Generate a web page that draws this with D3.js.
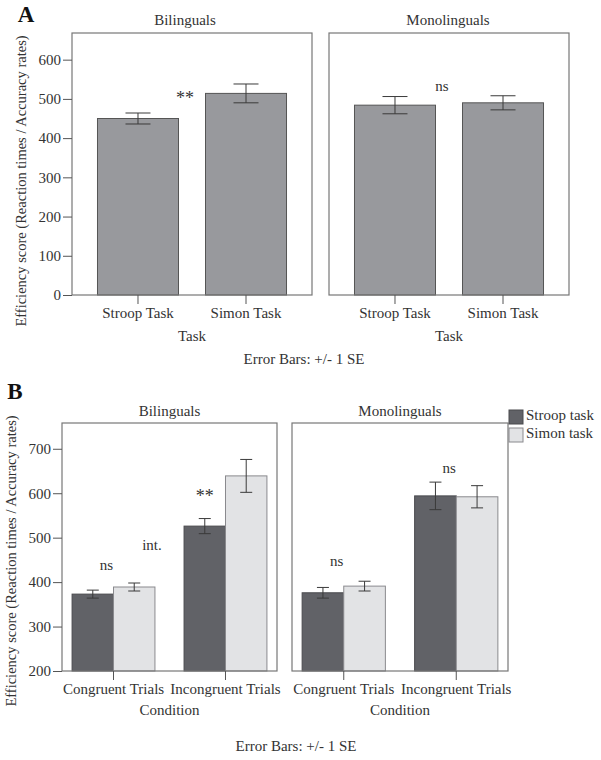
<!DOCTYPE html>
<html>
<head>
<meta charset="utf-8">
<script src="https://cdn.jsdelivr.net/npm/d3@7"></script>
<style>
  body { margin: 0; background: #fff; }
  text { font-family: "Liberation Serif", "DejaVu Serif", serif; fill: #333; }
</style>
</head>
<body>
<script>
// ---- data, panel A (efficiency by task) ----
const groups = ["Bilinguals", "Monolinguals"];
const tasks = ["Stroop Task", "Simon Task"];
const aBiMean = [450, 514];
const aBiSE = [14, 24];
const aMonoMean = [484, 490];
const aMonoSE = [22, 18];
const aTicks = [0, 100, 200, 300, 400, 500, 600];

// ---- data, panel B (efficiency by condition) ----
const conditions = ["Congruent Trials", "Incongruent Trials"];
const series = ["Stroop task", "Simon task"];
const bBiStroop = [373, 526];
const bBiStroopSE = [9, 17];
const bBiSimon = [389, 639];
const bBiSimonSE = [9, 37];
const bMonoStroop = [376, 594];
const bMonoStroopSE = [12, 31];
const bMonoSimon = [391, 592];
const bMonoSimonSE = [11, 25];
const bTicks = [200, 300, 400, 500, 600, 700];

// significance marks: [group, category, text, value]
const aNotes = [["Bilinguals", "Stroop Task", "**", 497], ["Monolinguals", "Stroop Task", "ns", 528]];
const bNotes = [
  ["Bilinguals", "Congruent Trials", "ns", 434, "group"],
  ["Bilinguals", "Congruent Trials", "int.", 481, "end"],
  ["Bilinguals", "Incongruent Trials", "**", 590, "bar"],
  ["Monolinguals", "Congruent Trials", "ns", 443, "group"],
  ["Monolinguals", "Incongruent Trials", "ns", 653, "group"]
];

const svg = d3.select("body").append("svg").attr("width", 601).attr("height", 760);

const fs = 15;
const frameCol = "#777";
const errCol = "#3a3a3a";

function frame(x0, x1, y0, y1) {
  svg.append("rect")
    .attr("x", x0).attr("y", y0)
    .attr("width", x1 - x0).attr("height", y1 - y0)
    .attr("fill", "none").attr("stroke", frameCol).attr("stroke-width", 1.2);
}

function errorBar(g, cx, y, mean, se, cap) {
  g.append("line").attr("x1", cx).attr("x2", cx)
    .attr("y1", y(mean - se)).attr("y2", y(mean + se))
    .attr("stroke", errCol);
  [mean - se, mean + se].forEach(v => {
    g.append("line").attr("x1", cx - cap / 2).attr("x2", cx + cap / 2)
      .attr("y1", y(v)).attr("y2", y(v)).attr("stroke", errCol);
  });
}

function styleAxis(g) {
  g.select(".domain").remove();
  g.selectAll(".tick line").attr("stroke", "#555");
  g.selectAll(".tick text").attr("font-size", fs).attr("fill", "#333")
    .attr("font-family", "Liberation Serif");
}

function label(x, y, txt, size, extra) {
  const t = svg.append("text").attr("x", x).attr("y", y)
    .attr("text-anchor", "middle").attr("dominant-baseline", "middle")
    .attr("font-size", size).text(txt);
  if (extra) extra(t);
  return t;
}

// ================= Panel A =================
const yA = d3.scaleLinear().domain([0, 668]).range([295, 33]);
const aFrames = { Bilinguals: [72, 312], Monolinguals: [329, 569] };
const aData = { Bilinguals: [aBiMean, aBiSE], Monolinguals: [aMonoMean, aMonoSE] };
const aTitleX = { Bilinguals: 185, Monolinguals: 448 };

label(26, 17, "A", 23, t => t.attr("font-weight", "bold").style("fill", "#111"));

groups.forEach((grp, gi) => {
  const [x0, x1] = aFrames[grp];
  const x = d3.scaleBand().domain(tasks).range([x0, x1]).paddingInner(0.25).paddingOuter(0.236);
  const [means, ses] = aData[grp];
  const g = svg.append("g");

  g.selectAll("rect.bar").data(tasks).join("rect")
    .attr("x", d => x(d)).attr("width", x.bandwidth())
    .attr("y", (d, i) => yA(means[i]))
    .attr("height", (d, i) => yA(0) - yA(means[i]))
    .attr("fill", "#98999d").attr("stroke", "#555").attr("stroke-width", 1);

  tasks.forEach((t, i) => errorBar(g, x(t) + x.bandwidth() / 2, yA, means[i], ses[i], 25));

  frame(x0, x1, yA.range()[1], yA(0));

  const xa = svg.append("g").attr("transform", `translate(0,${yA(0)})`)
    .call(d3.axisBottom(x).tickSize(9).tickPadding(3));
  styleAxis(xa);

  if (gi === 0) {
    const ya = svg.append("g").attr("transform", `translate(${x0},0)`)
      .call(d3.axisLeft(yA).tickValues(aTicks).tickSize(9).tickPadding(2));
    styleAxis(ya);
  }

  label(aTitleX[grp], 22, grp, fs);
  label((x0 + x1) / 2, 338, "Task", fs);

  aNotes.filter(n => n[0] === grp).forEach(n => {
    const cx = (x(tasks[0]) + x(tasks[1]) + x.bandwidth()) / 2 - 7;
    label(cx, yA(n[3]), n[2], fs, t => t.attr("font-size", n[2] === "**" ? 18 : fs));
  });
});

label(23, 181, "Efficiency score (Reaction times / Accuracy rates)", 14.5,
  t => t.attr("transform", "rotate(-90,23,181)"));
label(304, 361, "Error Bars: +/- 1 SE", fs);

// ================= Panel B =================
const yB = d3.scaleLinear().domain([200, 758]).range([671, 423]);
const bFrames = { Bilinguals: [62, 277], Monolinguals: [292, 508] };
const bData = {
  Bilinguals: [[bBiStroop, bBiStroopSE], [bBiSimon, bBiSimonSE]],
  Monolinguals: [[bMonoStroop, bMonoStroopSE], [bMonoSimon, bMonoSimonSE]]
};
const color = d3.scaleOrdinal().domain(series).range(["#616267", "#e2e3e5"]);
const edge = d3.scaleOrdinal().domain(series).range(["#4a4a4e", "#8a8a8e"]);

label(15, 394, "B", 23, t => t.attr("font-weight", "bold").style("fill", "#111"));

groups.forEach((grp, gi) => {
  const [x0, x1] = bFrames[grp];
  const x = d3.scaleBand().domain(conditions).range([x0, x1]).paddingInner(0.26).paddingOuter(0.09);
  const xs = d3.scaleBand().domain(series).range([0, x.bandwidth()]);
  const g = svg.append("g");

  series.forEach((s, si) => {
    const [means, ses] = bData[grp][si];
    g.selectAll(null).data(conditions).join("rect")
      .attr("x", d => x(d) + xs(s)).attr("width", xs.bandwidth())
      .attr("y", (d, i) => yB(means[i]))
      .attr("height", (d, i) => yB(200) - yB(means[i]))
      .attr("fill", color(s)).attr("stroke", edge(s)).attr("stroke-width", 1);
  });
  series.forEach((s, si) => {
    const [means, ses] = bData[grp][si];
    conditions.forEach((c, i) =>
      errorBar(g, x(c) + xs(s) + xs.bandwidth() / 2, yB, means[i], ses[i], 12));
  });

  frame(x0, x1, yB.range()[1], yB(200));

  const xa = svg.append("g").attr("transform", `translate(0,${yB(200)})`)
    .call(d3.axisBottom(x).tickSize(9).tickPadding(3));
  styleAxis(xa);

  if (gi === 0) {
    const ya = svg.append("g").attr("transform", `translate(${x0},0)`)
      .call(d3.axisLeft(yB).tickValues(bTicks).tickSize(9).tickPadding(2));
    styleAxis(ya);
  }

  label((x0 + x1) / 2, 413, grp, fs);
  label((x0 + x1) / 2, 712, "Condition", fs);

  bNotes.filter(n => n[0] === grp).forEach(n => {
    let cx;
    if (n[4] === "bar") cx = x(n[1]) + xs.bandwidth() / 2;
    else if (n[4] === "end") cx = x(n[1]) + x.bandwidth() - 3;
    else cx = x(n[1]) + x.bandwidth() / 2 - 7;
    label(cx, yB(n[3]), n[2], fs, t => t.attr("font-size", n[2] === "**" ? 18 : fs));
  });
});

// legend
const leg = svg.append("g").attr("transform", "translate(509,410)");
series.forEach((s, i) => {
  leg.append("rect").attr("x", 0).attr("y", i * 18).attr("width", 14).attr("height", 14)
    .attr("fill", color(s)).attr("stroke", edge(s));
  leg.append("text").attr("x", 17).attr("y", i * 18 + 7).attr("dominant-baseline", "middle")
    .attr("font-size", fs).text(s);
});

label(13, 561, "Efficiency score (Reaction times / Accuracy rates)", 14.5,
  t => t.attr("transform", "rotate(-90,13,561)"));
label(296, 748, "Error Bars: +/- 1 SE", fs);
</script>
</body>
</html>
